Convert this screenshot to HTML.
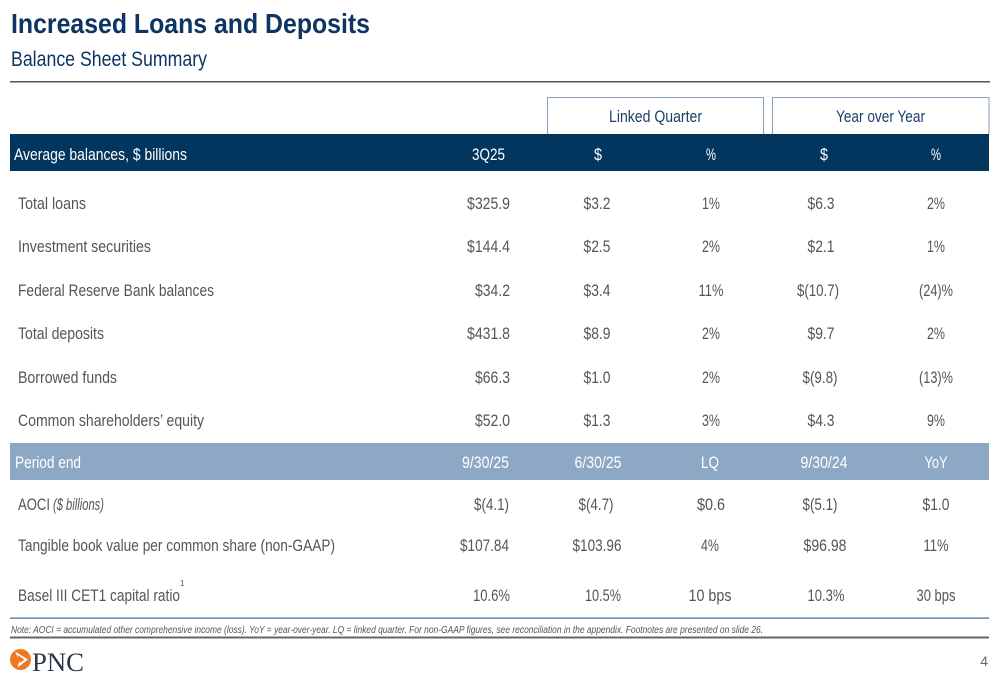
<!DOCTYPE html>
<html><head><meta charset="utf-8"><style>
html,body{margin:0;padding:0;background:#fff;}
svg{display:block;}
text{font-family:"Liberation Sans",sans-serif;}
</style></head><body>
<svg width="1000" height="685" viewBox="0 0 1000 685" xmlns="http://www.w3.org/2000/svg">
<rect width="1000" height="685" fill="#fff"/>
<!-- Title -->
<text x="11" y="33" font-size="28" font-weight="bold" fill="#0c3561" textLength="359" lengthAdjust="spacingAndGlyphs">Increased Loans and Deposits</text>
<text x="11" y="66" font-size="21" fill="#0c3561" textLength="196" lengthAdjust="spacingAndGlyphs">Balance Sheet Summary</text>
<rect x="10" y="81" width="980" height="1.5" fill="#555"/>

<!-- group boxes -->
<rect x="547.5" y="97.5" width="216" height="37" fill="#fff" stroke="#8aa2bc" stroke-width="1"/>
<rect x="772.5" y="97.5" width="216.5" height="37" fill="#fff" stroke="#8aa2bc" stroke-width="1"/>
<text x="655.5" y="122" font-size="17" fill="#1b3f68" text-anchor="middle" textLength="93" lengthAdjust="spacingAndGlyphs">Linked Quarter</text>
<text x="880.5" y="122" font-size="17" fill="#1b3f68" text-anchor="middle" textLength="89" lengthAdjust="spacingAndGlyphs">Year over Year</text>

<!-- header bar -->
<rect x="10" y="134" width="979" height="37" fill="#03365f"/>
<g font-size="17" fill="#fff">
<text x="14" y="160" textLength="173" lengthAdjust="spacingAndGlyphs">Average balances, $ billions</text>
<text x="505" y="160" text-anchor="end" textLength="33" lengthAdjust="spacingAndGlyphs">3Q25</text>
<text x="598" y="160" text-anchor="middle" textLength="8" lengthAdjust="spacingAndGlyphs">$</text>
<text x="711" y="160" text-anchor="middle" textLength="10" lengthAdjust="spacingAndGlyphs">%</text>
<text x="824" y="160" text-anchor="middle" textLength="8" lengthAdjust="spacingAndGlyphs">$</text>
<text x="936" y="160" text-anchor="middle" textLength="10" lengthAdjust="spacingAndGlyphs">%</text>
</g>

<!-- rows -->
<g font-size="17" fill="#555">
<text x="18" y="209" textLength="68" lengthAdjust="spacingAndGlyphs">Total loans</text>
<text x="510" y="209" text-anchor="end" textLength="43" lengthAdjust="spacingAndGlyphs">$325.9</text>
<text x="597" y="209" text-anchor="middle" textLength="27" lengthAdjust="spacingAndGlyphs">$3.2</text>
<text x="711" y="209" text-anchor="middle" textLength="18" lengthAdjust="spacingAndGlyphs">1%</text>
<text x="821" y="209" text-anchor="middle" textLength="27" lengthAdjust="spacingAndGlyphs">$6.3</text>
<text x="936" y="209" text-anchor="middle" textLength="18" lengthAdjust="spacingAndGlyphs">2%</text>

<text x="18" y="252" textLength="133" lengthAdjust="spacingAndGlyphs">Investment securities</text>
<text x="510" y="252" text-anchor="end" textLength="43" lengthAdjust="spacingAndGlyphs">$144.4</text>
<text x="597" y="252" text-anchor="middle" textLength="27" lengthAdjust="spacingAndGlyphs">$2.5</text>
<text x="711" y="252" text-anchor="middle" textLength="18" lengthAdjust="spacingAndGlyphs">2%</text>
<text x="821" y="252" text-anchor="middle" textLength="27" lengthAdjust="spacingAndGlyphs">$2.1</text>
<text x="936" y="252" text-anchor="middle" textLength="18" lengthAdjust="spacingAndGlyphs">1%</text>

<text x="18" y="296" textLength="196" lengthAdjust="spacingAndGlyphs">Federal Reserve Bank balances</text>
<text x="510" y="296" text-anchor="end" textLength="35" lengthAdjust="spacingAndGlyphs">$34.2</text>
<text x="597" y="296" text-anchor="middle" textLength="27" lengthAdjust="spacingAndGlyphs">$3.4</text>
<text x="711" y="296" text-anchor="middle" textLength="25" lengthAdjust="spacingAndGlyphs">11%</text>
<text x="818" y="296" text-anchor="middle" textLength="42" lengthAdjust="spacingAndGlyphs">$(10.7)</text>
<text x="936" y="296" text-anchor="middle" textLength="34" lengthAdjust="spacingAndGlyphs">(24)%</text>

<text x="18" y="339" textLength="86" lengthAdjust="spacingAndGlyphs">Total deposits</text>
<text x="510" y="339" text-anchor="end" textLength="43" lengthAdjust="spacingAndGlyphs">$431.8</text>
<text x="597" y="339" text-anchor="middle" textLength="27" lengthAdjust="spacingAndGlyphs">$8.9</text>
<text x="711" y="339" text-anchor="middle" textLength="18" lengthAdjust="spacingAndGlyphs">2%</text>
<text x="821" y="339" text-anchor="middle" textLength="27" lengthAdjust="spacingAndGlyphs">$9.7</text>
<text x="936" y="339" text-anchor="middle" textLength="18" lengthAdjust="spacingAndGlyphs">2%</text>

<text x="18" y="383" textLength="99" lengthAdjust="spacingAndGlyphs">Borrowed funds</text>
<text x="510" y="383" text-anchor="end" textLength="35" lengthAdjust="spacingAndGlyphs">$66.3</text>
<text x="597" y="383" text-anchor="middle" textLength="27" lengthAdjust="spacingAndGlyphs">$1.0</text>
<text x="711" y="383" text-anchor="middle" textLength="18" lengthAdjust="spacingAndGlyphs">2%</text>
<text x="820" y="383" text-anchor="middle" textLength="35" lengthAdjust="spacingAndGlyphs">$(9.8)</text>
<text x="936" y="383" text-anchor="middle" textLength="34" lengthAdjust="spacingAndGlyphs">(13)%</text>

<text x="18" y="426" textLength="186" lengthAdjust="spacingAndGlyphs">Common shareholders’ equity</text>
<text x="510" y="426" text-anchor="end" textLength="35" lengthAdjust="spacingAndGlyphs">$52.0</text>
<text x="597" y="426" text-anchor="middle" textLength="27" lengthAdjust="spacingAndGlyphs">$1.3</text>
<text x="711" y="426" text-anchor="middle" textLength="18" lengthAdjust="spacingAndGlyphs">3%</text>
<text x="821" y="426" text-anchor="middle" textLength="27" lengthAdjust="spacingAndGlyphs">$4.3</text>
<text x="936" y="426" text-anchor="middle" textLength="18" lengthAdjust="spacingAndGlyphs">9%</text>
</g>

<!-- period end bar -->
<rect x="10" y="443" width="979" height="37" fill="#8da8c4"/>
<g font-size="17" fill="#fff">
<text x="15" y="468" textLength="66" lengthAdjust="spacingAndGlyphs">Period end</text>
<text x="509" y="468" text-anchor="end" textLength="47" lengthAdjust="spacingAndGlyphs">9/30/25</text>
<text x="598" y="468" text-anchor="middle" textLength="47" lengthAdjust="spacingAndGlyphs">6/30/25</text>
<text x="710" y="468" text-anchor="middle" textLength="18" lengthAdjust="spacingAndGlyphs">LQ</text>
<text x="824" y="468" text-anchor="middle" textLength="47" lengthAdjust="spacingAndGlyphs">9/30/24</text>
<text x="936" y="468" text-anchor="middle" textLength="23" lengthAdjust="spacingAndGlyphs">YoY</text>
</g>

<g font-size="17" fill="#555">
<text x="18" y="510" textLength="32" lengthAdjust="spacingAndGlyphs">AOCI</text>
<text x="53" y="510" font-style="italic" textLength="51" lengthAdjust="spacingAndGlyphs">($ billions)</text>
<text x="509" y="510" text-anchor="end" textLength="35" lengthAdjust="spacingAndGlyphs">$(4.1)</text>
<text x="596" y="510" text-anchor="middle" textLength="35" lengthAdjust="spacingAndGlyphs">$(4.7)</text>
<text x="711" y="510" text-anchor="middle" textLength="28" lengthAdjust="spacingAndGlyphs">$0.6</text>
<text x="820" y="510" text-anchor="middle" textLength="35" lengthAdjust="spacingAndGlyphs">$(5.1)</text>
<text x="936" y="510" text-anchor="middle" textLength="27" lengthAdjust="spacingAndGlyphs">$1.0</text>

<text x="18" y="551" textLength="317" lengthAdjust="spacingAndGlyphs">Tangible book value per common share (non-GAAP)</text>
<text x="509" y="551" text-anchor="end" textLength="49" lengthAdjust="spacingAndGlyphs">$107.84</text>
<text x="597" y="551" text-anchor="middle" textLength="49" lengthAdjust="spacingAndGlyphs">$103.96</text>
<text x="710" y="551" text-anchor="middle" textLength="18" lengthAdjust="spacingAndGlyphs">4%</text>
<text x="825" y="551" text-anchor="middle" textLength="43" lengthAdjust="spacingAndGlyphs">$96.98</text>
<text x="936" y="551" text-anchor="middle" textLength="25" lengthAdjust="spacingAndGlyphs">11%</text>

<text x="18" y="601" textLength="162" lengthAdjust="spacingAndGlyphs">Basel III CET1 capital ratio</text>
<text x="180" y="586" font-size="8">1</text>
<text x="510" y="601" text-anchor="end" textLength="37" lengthAdjust="spacingAndGlyphs">10.6%</text>
<text x="603" y="601" text-anchor="middle" textLength="36" lengthAdjust="spacingAndGlyphs">10.5%</text>
<text x="710" y="601" text-anchor="middle" textLength="43" lengthAdjust="spacingAndGlyphs">10 bps</text>
<text x="826" y="601" text-anchor="middle" textLength="37" lengthAdjust="spacingAndGlyphs">10.3%</text>
<text x="936" y="601" text-anchor="middle" textLength="39" lengthAdjust="spacingAndGlyphs">30 bps</text>
</g>

<rect x="10" y="617.5" width="979" height="1.2" fill="#3d6e9c"/>
<text x="11" y="633" font-size="10" font-style="italic" fill="#555" textLength="752" lengthAdjust="spacingAndGlyphs">Note: AOCI = accumulated other comprehensive income (loss). YoY = year-over-year. LQ = linked quarter. For non-GAAP figures, see reconciliation in the appendix. Footnotes are presented on slide 26.</text>
<rect x="10" y="636.5" width="979" height="2" fill="#666"/>

<!-- logo -->
<circle cx="20.5" cy="659.5" r="10.5" fill="#ef7622"/>
<path d="M15 651.5 L28 659.5 L17.5 667.5 L19.5 660.5 Z" fill="#fff"/>
<path d="M17.5 655 L24.5 659.5 L19.8 663 Z" fill="#ef7622"/>
<text x="32" y="671" font-family="Liberation Serif, serif" font-size="26" fill="#27384a" textLength="52" lengthAdjust="spacingAndGlyphs" style="font-family:'Liberation Serif',serif">PNC</text>

<text x="988" y="666" font-size="14" fill="#666" text-anchor="end">4</text>
</svg>
</body></html>
